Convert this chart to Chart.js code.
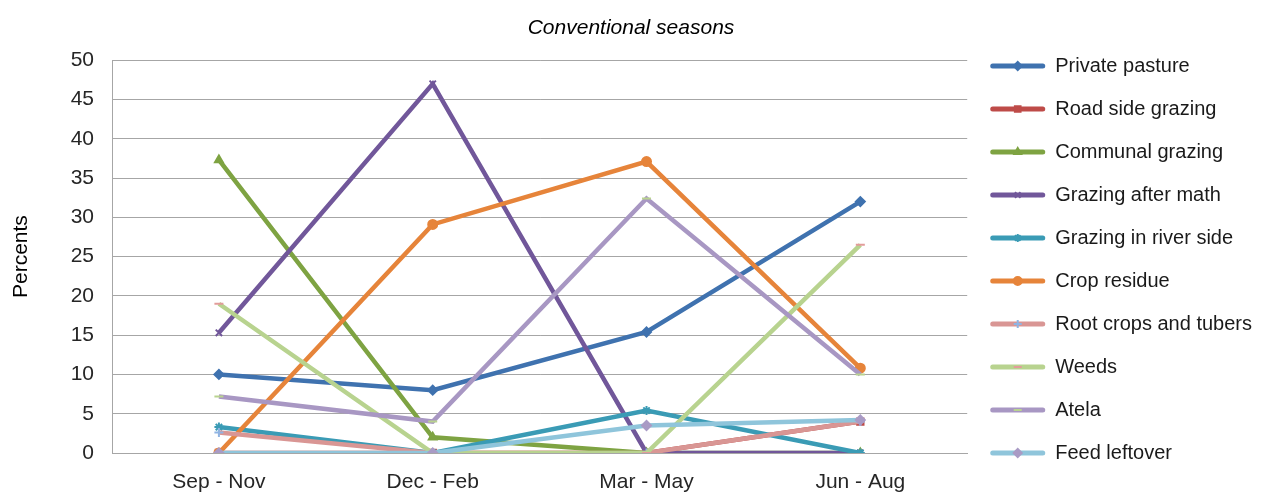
<!DOCTYPE html>
<html>
<head>
<meta charset="utf-8">
<script src="https://cdn.jsdelivr.net/npm/chart.js@4.4.1/dist/chart.umd.min.js"></script>
<style>
    html, body { margin: 0; padding: 0; background: #fff; overflow: hidden; }
    #wrap { width: 1262px; height: 492px; }
</style>
</head>
<body>
<div id="wrap"><canvas id="seasonsChart"></canvas></div>
<script>
// categories
const seasons = ["Sep - Nov", "Dec - Feb", "Mar - May", "Jun - Aug"];

// series (percent of respondents)
const privatePasture = [10, 8, 15.4, 32];
const roadSideGrazing = [0, 0, 0, 4];
const communalGrazing = [37.3, 2, 0, 0];
const grazingAfterMath = [15.3, 47, 0, 0];
const grazingRiverSide = [3.3, 0, 5.4, 0];
const cropResidue = [0, 29.1, 37.1, 10.8];
const rootCrops = [2.6, 0, 0, 4];
const weeds = [19, 0, 0, 26.5];
const atela = [7.2, 4, 32.4, 10];
const feedLeftover = [0, 0, 3.5, 4.2];

const seriesNames = ["Private pasture", "Road side grazing", "Communal grazing", "Grazing after math",
    "Grazing in river side", "Crop residue", "Root crops and tubers", "Weeds", "Atela", "Feed leftover"];
const seriesValues = [privatePasture, roadSideGrazing, communalGrazing, grazingAfterMath,
    grazingRiverSide, cropResidue, rootCrops, weeds, atela, feedLeftover];

// y axis: 0..50 step 5
const yMin = 0;
const yMax = 50;
const yStep = 5;

// styles
const lineColors = ["#3F72AF", "#BE4B48", "#7EA342", "#71579A", "#3A9BB5",
    "#E6843A", "#D99694", "#B8D38F", "#A897C3", "#8FC5DB"];
const markerColors = ["#3F72AF", "#BE4B48", "#7EA342", "#71579A", "#3A9BB5",
    "#E6843A", "#8FB4E3", "#E29C9A", "#B9D38F", "#A99BC5"];
const markerStyles = ["rectRot", "rect", "triangle", "crossRot", "star",
    "circle", "cross", "line", "line", "rectRot"];

const FONT = "'Liberation Sans', Arial, sans-serif";

// little markers in the middle of each legend line, like Excel does
const legendMarkers = {
    id: "legendMarkers",
    afterDraw(chart) {
        const legend = chart.legend;
        if (!legend || !legend.legendHitBoxes || !Chart.helpers || !Chart.helpers.drawPoint) return;
        const ctx = chart.ctx;
        const bw = legend.options.labels.boxWidth;
        legend.legendHitBoxes.forEach((box, i) => {
            const item = legend.legendItems[i];
            const ds = chart.data.datasets[item.datasetIndex];
            ctx.save();
            ctx.fillStyle = ds.pointBackgroundColor;
            ctx.strokeStyle = ds.pointBorderColor;
            ctx.lineWidth = ds.pointBorderWidth;
            Chart.helpers.drawPoint(ctx, {
                pointStyle: ds.pointStyle,
                radius: 4,
                rotation: 0,
                borderWidth: ds.pointBorderWidth,
            }, box.left + bw / 2, box.top + 10);
            ctx.restore();
        });
    },
};

new Chart(document.getElementById("seasonsChart").getContext("2d"), {
    type: "line",
    data: {
        labels: seasons,
        datasets: seriesNames.map((name, i) => ({
            label: name,
            data: seriesValues[i],
            borderColor: lineColors[i],
            backgroundColor: lineColors[i],
            borderWidth: 4.5,
            tension: 0,
            fill: false,
            pointStyle: markerStyles[i],
            pointRadius: 4.5,
            pointBorderWidth: 2,
            pointBackgroundColor: markerColors[i],
            pointBorderColor: markerColors[i],
            order: seriesNames.length - i, // later series on top
        })),
    },
    options: {
        responsive: true,
        maintainAspectRatio: false,
        animation: false,
        layout: { padding: { left: 0, right: 0, top: 0, bottom: 0 } },
        plugins: {
            title: {
                display: true,
                text: "Conventional seasons",
                color: "#000",
                font: { family: FONT, size: 21, style: "italic", weight: "normal" },
                padding: { top: 16, bottom: 19 },
            },
            legend: {
                display: true,
                position: "right",
                align: "center",
                title: { display: true, text: " ", font: { size: 10, lineHeight: "27px" }, padding: 0 },
                labels: {
                    boxWidth: 55,
                    boxHeight: 5,
                    padding: 23,
                    color: "#1a1a1a",
                    font: { family: FONT, size: 20 },
                    generateLabels(chart) {
                        return chart.data.datasets.map((ds, i) => ({
                            text: ds.label,
                            fillStyle: ds.borderColor,
                            strokeStyle: ds.borderColor,
                            fontColor: "#1a1a1a",
                            lineWidth: 0,
                            borderRadius: 2.5,
                            hidden: false,
                            datasetIndex: i,
                        }));
                    },
                },
            },
            tooltip: { enabled: false },
        },
        scales: {
            x: {
                offset: true,
                grid: { display: false, drawTicks: false, offset: true },
                border: { color: "#a6a6a6" },
                ticks: { color: "#262626", font: { family: FONT, size: 21 }, padding: 17, maxRotation: 0 },
                afterFit(scale) { scale.height = 39; },
            },
            y: {
                min: yMin,
                max: yMax,
                grid: { color: "#a6a6a6", drawTicks: false },
                border: { color: "#a6a6a6" },
                ticks: { stepSize: yStep, color: "#262626", font: { family: FONT, size: 21 }, padding: 18 },
                title: {
                    display: true,
                    text: "Percents",
                    color: "#000",
                    font: { family: FONT, size: 21 },
                    padding: { top: 9, bottom: 0 },
                },
                afterFit(scale) { scale.width = 112; },
            },
        },
    },
    plugins: [legendMarkers],
});
</script>
</body>
</html>
